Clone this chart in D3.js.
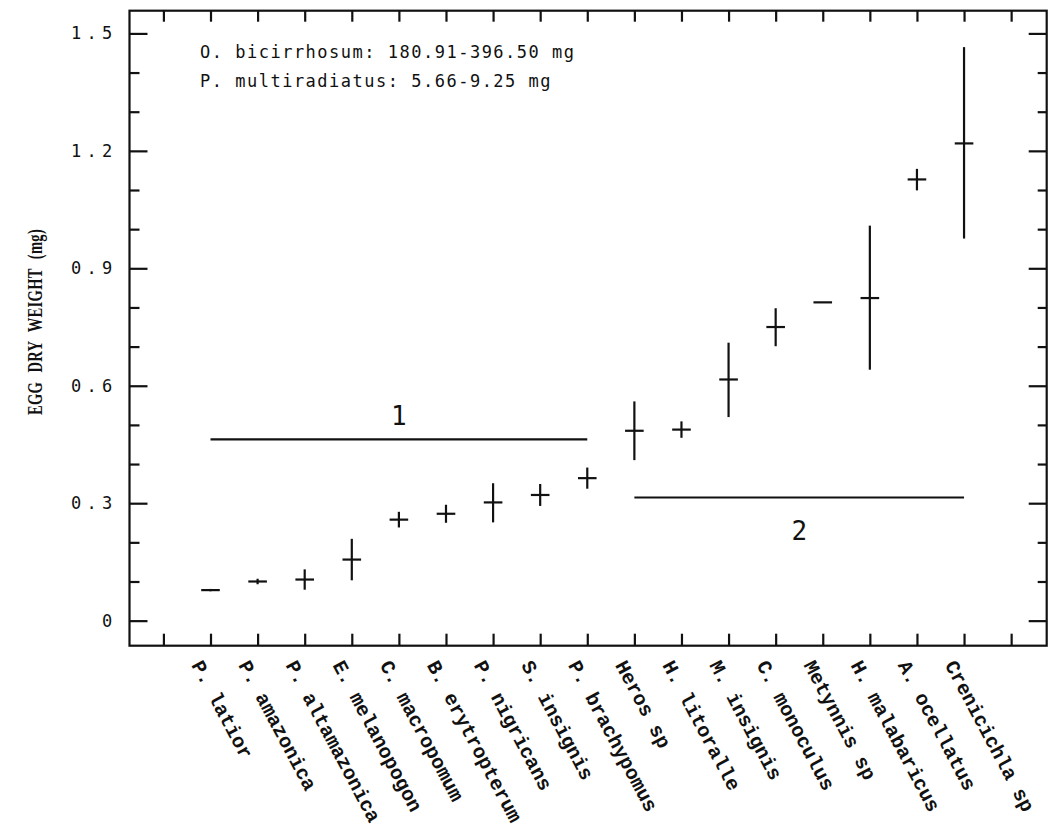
<!DOCTYPE html>
<html>
<head>
<meta charset="utf-8">
<script src="https://cdn.jsdelivr.net/npm/d3@7"></script>
<style>
  html, body { margin: 0; padding: 0; background: #fff; }
  svg { display: block; }
</style>
</head>
<body>
<svg id="chart" width="1048" height="830"></svg>
<script>
// Species, in plotting order
const categories = [
  "P. latior", "P. amazonica", "P. altamazonica", "E. melanopogon",
  "C. macropomum", "B. erytropterum", "P. nigricans", "S. insignis",
  "P. brachypomus", "Heros sp", "H. litoralle", "M. insignis",
  "C. monoculus", "Metynnis sp", "H. malabaricus", "A. ocellatus",
  "Crenicichla sp"
];
// Mean egg dry weight (mg) and the low / high ends of its range bar
const eggMean = [0.078, 0.100, 0.105, 0.156, 0.258, 0.273, 0.302, 0.321, 0.364,
                 0.485, 0.488, 0.616, 0.750, 0.813, 0.824, 1.127, 1.219];
const eggLow  = [0.075, 0.093, 0.079, 0.103, 0.238, 0.250, 0.251, 0.293, 0.337,
                 0.410, 0.467, 0.520, 0.701, 0.813, 0.641, 1.099, 0.976];
const eggHigh = [0.081, 0.107, 0.131, 0.209, 0.278, 0.296, 0.351, 0.349, 0.391,
                 0.560, 0.509, 0.710, 0.798, 0.813, 1.009, 1.154, 1.465];

// Y axis ticks
const yTickValues = [0, 0.3, 0.6, 0.9, 1.2, 1.5];
const yTickLabels = ["0", "0.3", "0.6", "0.9", "1.2", "1.5"];
const yMinorValues = [0.1, 0.2, 0.4, 0.5, 0.7, 0.8, 1.0, 1.1, 1.3, 1.4];
// X axis tick positions (category slots, with one empty slot at each end)
const xTickValues = d3.range(0, 19);

// Group bars and their labels
const groupLabels = ["1", "2"];
const groupFrom = [1, 10];
const groupTo = [9, 17];
const groupLevel = [0.463, 0.3145];

// Note in the upper left
const noteLines = [
  "O. bicirrhosum: 180.91-396.50 mg",
  "P. multiradiatus: 5.66-9.25 mg"
];
const yTitle = "EGG DRY WEIGHT (mg)";

const svg = d3.select("#chart");
const plotLeft = 129.5, plotRight = 1046.7, plotTop = 10.7, plotBottom = 645.7;

const x = d3.scaleLinear().domain([-0.72, 18.755]).range([plotLeft, plotRight]);
const y = d3.scaleLinear().domain([-0.064, 1.558]).range([plotBottom, plotTop]);

const ink = "#111";
const lw = 2.2;

// Frame
svg.append("rect")
  .attr("x", plotLeft).attr("y", plotTop)
  .attr("width", plotRight - plotLeft).attr("height", plotBottom - plotTop)
  .attr("fill", "none").attr("stroke", ink).attr("stroke-width", lw);

function styleAxis(g) {
  g.select(".domain").remove();
  g.selectAll(".tick line").attr("stroke", ink).attr("stroke-width", lw);
}

// Bottom and top ticks (pointing inward)
svg.append("g").attr("transform", `translate(0,${plotBottom})`)
  .call(d3.axisBottom(x).tickValues(xTickValues).tickSize(-12).tickFormat(""))
  .call(styleAxis);
svg.append("g").attr("transform", `translate(0,${plotTop})`)
  .call(d3.axisTop(x).tickValues(xTickValues).tickSize(-11).tickFormat(""))
  .call(styleAxis);

// Left axis: major ticks with labels, minor ticks
const monoFont = "'DejaVu Sans Mono', monospace";
const leftAxis = svg.append("g").attr("transform", `translate(${plotLeft},0)`)
  .call(d3.axisLeft(y).tickValues(yTickValues).tickSize(-18).tickPadding(0)
    .tickFormat((d, i) => yTickLabels[i]))
  .call(styleAxis);
leftAxis.selectAll(".tick text")
  .attr("x", -12)
  .attr("fill", ink)
  .style("font-family", monoFont)
  .style("font-size", "17px")
  .style("letter-spacing", "5.3px");
svg.append("g").attr("transform", `translate(${plotLeft},0)`)
  .call(d3.axisLeft(y).tickValues(yMinorValues).tickSize(-10).tickFormat(""))
  .call(styleAxis);

// Right axis ticks
svg.append("g").attr("transform", `translate(${plotRight},0)`)
  .call(d3.axisRight(y).tickValues(yTickValues).tickSize(-18).tickFormat(""))
  .call(styleAxis);
svg.append("g").attr("transform", `translate(${plotRight},0)`)
  .call(d3.axisRight(y).tickValues(yMinorValues).tickSize(-9).tickFormat(""))
  .call(styleAxis);

// Category labels, slanted under the axis
const labelAngle = 62;
svg.append("g").selectAll("text")
  .data(categories)
  .join("text")
  .attr("transform", (d, i) => `translate(${x(i + 1) - 19.5},665) rotate(${labelAngle})`)
  .attr("fill", ink)
  .style("font-family", "'Liberation Mono', 'Courier New', monospace")
  .style("font-weight", "bold")
  .style("font-size", "20px")
  .text(d => d);

// Y title, condensed serif
svg.append("text")
  .attr("transform", `translate(42,322) rotate(-90) scale(0.66,1)`)
  .attr("text-anchor", "middle")
  .attr("fill", ink)
  .style("font-family", "'Liberation Serif', 'Times New Roman', serif")
  .style("font-weight", "bold")
  .style("font-size", "22px")
  .style("letter-spacing", "0.5px")
  .style("word-spacing", "8px")
  .text(yTitle);

// Group bars
const groups = groupLabels.map((label, i) => ({
  label, from: groupFrom[i], to: groupTo[i], level: groupLevel[i]
}));
svg.append("g").selectAll("line")
  .data(groups)
  .join("line")
  .attr("x1", d => x(d.from)).attr("x2", d => x(d.to))
  .attr("y1", d => y(d.level)).attr("y2", d => y(d.level))
  .attr("stroke", ink).attr("stroke-width", lw);
svg.append("g").selectAll("text")
  .data(groups)
  .join("text")
  .attr("x", d => x((d.from + d.to) / 2))
  .attr("y", (d, i) => i === 0 ? y(d.level) - 14 : y(d.level) + 42)
  .attr("text-anchor", "middle")
  .attr("fill", ink)
  .style("font-family", monoFont)
  .style("font-size", "26px")
  .text(d => d.label);

// Range bars and mean marks
const points = categories.map((name, i) => ({
  name, pos: i + 1, mean: eggMean[i], lo: eggLow[i], hi: eggHigh[i]
}));
const marks = svg.append("g").selectAll("g")
  .data(points)
  .join("g");
marks.append("line")
  .attr("x1", d => x(d.pos)).attr("x2", d => x(d.pos))
  .attr("y1", d => y(d.lo)).attr("y2", d => y(d.hi))
  .attr("stroke", ink).attr("stroke-width", lw);
marks.append("line")
  .attr("x1", d => x(d.pos) - 9.3).attr("x2", d => x(d.pos) + 9.3)
  .attr("y1", d => y(d.mean)).attr("y2", d => y(d.mean))
  .attr("stroke", ink).attr("stroke-width", lw);

// Note text
svg.append("g").selectAll("text")
  .data(noteLines)
  .join("text")
  .attr("x", 200)
  .attr("y", (d, i) => 58 + i * 29)
  .attr("fill", ink)
  .style("font-family", monoFont)
  .style("font-size", "17px")
  .style("letter-spacing", "1.5px")
  .text(d => d);
</script>
</body>
</html>
